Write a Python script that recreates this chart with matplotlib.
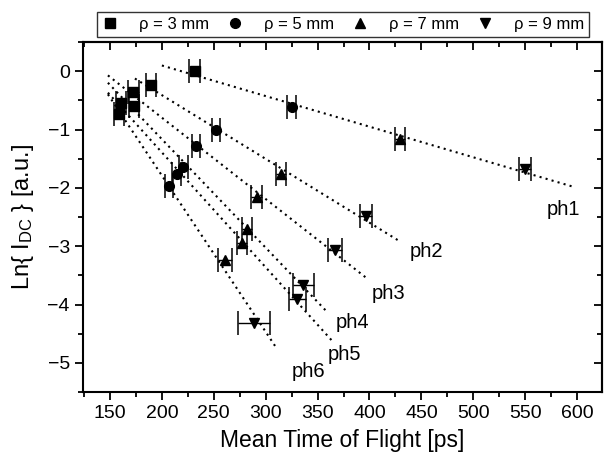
import numpy as np
import matplotlib
matplotlib.use("Agg")
import matplotlib.pyplot as plt
from matplotlib.lines import Line2D
from matplotlib.ticker import MultipleLocator

plt.rcParams['font.family'] = ['Liberation Sans', 'DejaVu Sans']
plt.rcParams['mathtext.fontset'] = 'custom'
plt.rcParams['mathtext.rm'] = 'Liberation Sans'
plt.rcParams['mathtext.it'] = 'Liberation Sans:italic'

# ---- data ----
phantoms = ['ph1', 'ph2', 'ph3', 'ph4', 'ph5', 'ph6']
rho_labels = ['ρ = 3 mm', 'ρ = 5 mm', 'ρ = 7 mm', 'ρ = 9 mm']

tof_3mm = [231.5, 189.5, 172.5, 173.4, 160.6, 158.7]
ln_3mm = [0.00, -0.24, -0.36, -0.60, -0.54, -0.73]
err_3mm = [5, 5, 5, 5, 5, 5]

tof_5mm = [325.0, 251.8, 232.6, 220.7, 214.2, 207.1]
ln_5mm = [-0.62, -1.00, -1.28, -1.64, -1.77, -1.97]
err_5mm = [4, 4, 4, 4, 4, 4]

tof_7mm = [429.4, 315.0, 291.3, 281.7, 276.9, 260.8]
ln_7mm = [-1.17, -1.77, -2.16, -2.71, -2.94, -3.23]
err_7mm = [5, 5, 5, 5, 5, 7]

tof_9mm = [549.9, 396.4, 366.8, 336.3, 330.5, 288.8]
ln_9mm = [-1.68, -2.49, -3.06, -3.66, -3.91, -4.32]
err_9mm = [6, 6, 7, 10, 8, 15]

# ---- layout / style ----
fit_start = [200, 174, 148, 148, 148, 148]
fit_end = [595, 429, 397, 360, 364, 309]
label_pos = [(587, -2.37), (455, -3.09), (418, -3.81), (384, -4.31), (376, -4.86), (341, -5.15)]
markers = ['s', 'o', '^', 'v']

fig = plt.figure(figsize=(6.04, 4.57), dpi=100)
ax = fig.add_axes([83/604, 1-392/457, (602-83)/604, (392-42)/457])

tofs = [tof_3mm, tof_5mm, tof_7mm, tof_9mm]
lns = [ln_3mm, ln_5mm, ln_7mm, ln_9mm]
errs = [err_3mm, err_5mm, err_7mm, err_9mm]

# fit lines per phantom
for i, name in enumerate(phantoms):
    xs = np.array([t[i] for t in tofs])
    ys = np.array([l[i] for l in lns])
    k, b = np.polyfit(xs, ys, 1)
    xx = np.array([fit_start[i], fit_end[i]])
    ax.plot(xx, k*xx + b, linestyle=(0, (1, 2)), color='black', lw=1.5, zorder=1)
    ax.text(label_pos[i][0], label_pos[i][1], name, fontsize=14.5,
            ha='center', va='center')

for t, l, e, m in zip(tofs, lns, errs, markers):
    ax.errorbar(t, l, xerr=e, fmt=m, color='black', ms=7, capsize=8.5,
                elinewidth=1.0, capthick=1.1, zorder=3)

ax.set_xlim(124, 624)
ax.set_ylim(-5.5, 0.5)
ax.xaxis.set_major_locator(MultipleLocator(50))
ax.xaxis.set_minor_locator(MultipleLocator(25))
ax.yaxis.set_major_locator(MultipleLocator(1))
ax.yaxis.set_minor_locator(MultipleLocator(0.5))
ax.tick_params(which='both', direction='out', labelsize=14, width=1.3)
ax.tick_params(which='major', length=6)
ax.tick_params(which='minor', length=3.5)
for s in ax.spines.values():
    s.set_linewidth(1.5)

sx = ax.secondary_xaxis('top')
sx.xaxis.set_major_locator(MultipleLocator(50))
sx.xaxis.set_minor_locator(MultipleLocator(25))
sx.tick_params(which='both', direction='in', labeltop=False, width=1.3)
sx.tick_params(which='major', length=6)
sx.tick_params(which='minor', length=3.5)
sx.spines['top'].set_linewidth(1.5)
sy = ax.secondary_yaxis('right')
sy.yaxis.set_major_locator(MultipleLocator(1))
sy.yaxis.set_minor_locator(MultipleLocator(0.5))
sy.tick_params(which='both', direction='in', labelright=False, width=1.3)
sy.tick_params(which='major', length=6)
sy.tick_params(which='minor', length=3.5)
sy.spines['right'].set_linewidth(1.5)

ax.set_xlabel('Mean Time of Flight [ps]', fontsize=16.5, labelpad=5)
ax.set_ylabel(r'Ln{ I$_{\mathrm{DC}}$ } [a.u.]', fontsize=17, labelpad=8)

handles = [Line2D([], [], marker=m, color='black', linestyle='none', ms=7) for m in markers]
leg = fig.legend(handles, rho_labels, ncol=4, loc='center', mode='expand',
                 bbox_to_anchor=(97/604, 1-37/457, (589-97)/604, 25/457),
                 bbox_transform=fig.transFigure, fontsize=12, frameon=True,
                 fancybox=False, handlelength=1.0, handletextpad=1.2,
                 borderpad=0.3, borderaxespad=0)
leg.get_frame().set_edgecolor('black')
leg.get_frame().set_linewidth(1.0)

fig.savefig('out.png', dpi=100)
